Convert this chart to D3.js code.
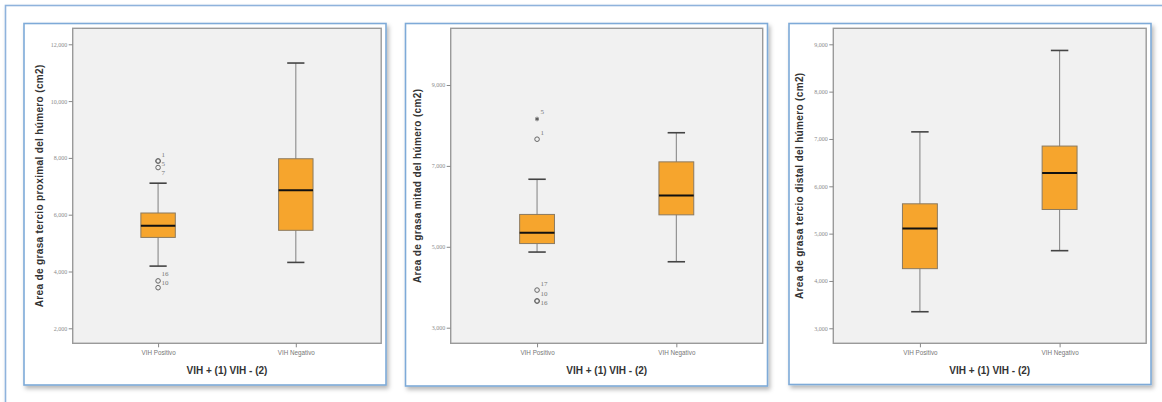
<!DOCTYPE html>
<html>
<head>
<meta charset="utf-8">
<script src="https://cdn.jsdelivr.net/npm/d3@7"></script>
<style>
  html, body { margin: 0; padding: 0; background: #fff; }
  svg { display: block; font-family: "Liberation Sans", Arial, sans-serif; }
</style>
</head>
<body>
<div id="chart"></div>
<script>
// Groups on the X axis (same for the three plots).
const categories = ["VIH Positivo", "VIH Negativo"];
const xTitle = "VIH + (1) VIH - (2)";

// Y axis titles, one per plot.
const yTitles = [
    "Area de grasa tercio proximal del húmero (cm2)",
    "Area de grasa mitad del húmero (cm2)",
    "Area de grasa tercio distal del húmero (cm2)"
];

// Y axis limits and ticks (cm2).
const yDomains = [[1.472, 12.563], [2.614, 10.402], [2.683, 9.338]];
const yTicks = [[2, 4, 6, 8, 10, 12], [3, 5, 7, 9], [3, 4, 5, 6, 7, 8, 9]];

// Box stats per group: [lower whisker, Q1, median, Q3, upper whisker].
const statsProximal = [[4.19, 5.20, 5.61, 6.06, 7.11], [4.32, 5.45, 6.86, 7.97, 11.34]];
const statsMitad    = [[4.87, 5.08, 5.35, 5.80, 6.67], [4.63, 5.79, 6.27, 7.10, 7.82]];
const statsDistal   = [[3.35, 4.26, 5.11, 5.63, 7.15], [4.64, 5.51, 6.28, 6.85, 8.87]];

// Outliers: group index, value, case number, extreme (star) or not.
const outProximal = [
    {g: 0, v: 7.89, id: "1", ext: false},
    {g: 0, v: 7.89, id: "5", ext: false},
    {g: 0, v: 7.66, id: "7", ext: false},
    {g: 0, v: 3.67, id: "16", ext: false},
    {g: 0, v: 3.43, id: "10", ext: false}
];
const outMitad = [
    {g: 0, v: 8.16, id: "5", ext: true},
    {g: 0, v: 7.66, id: "1", ext: false},
    {g: 0, v: 3.93, id: "17", ext: false},
    {g: 0, v: 3.66, id: "10", ext: false},
    {g: 0, v: 3.66, id: "16", ext: false}
];
const outDistal = [];

const allStats = [statsProximal, statsMitad, statsDistal];
const allOut = [outProximal, outMitad, outDistal];

// Page layout.
const width = 1162, height = 402;
const panelBoxes = [
    {x: 24,    y: 23.5, w: 362, h: 361.5, plotLeft: 48.7},
    {x: 405.5, y: 23.5, w: 362, h: 362.5, plotLeft: 45.2},
    {x: 789,   y: 23.5, w: 362, h: 361,   plotLeft: 44.3}
];
const plotTop = 28.3, plotBottom = 343.3, plotRightInset = 4.8;

const fmt = d3.formatLocale({decimal: ",", thousands: ".", grouping: [3], currency: ["", ""]})
    .format(".3f");

const svg = d3.select("#chart").append("svg")
    .attr("width", width)
    .attr("height", height);

// Soft shadow used by the frames.
const defs = svg.append("defs");
defs.append("filter")
    .attr("id", "shadow")
    .attr("x", "-5%").attr("y", "-5%").attr("width", "115%").attr("height", "115%")
    .append("feDropShadow")
        .attr("dx", 2).attr("dy", 3)
        .attr("stdDeviation", 2)
        .attr("flood-color", "#000")
        .attr("flood-opacity", 0.28);

// Outer frame (only top and left edges visible in the crop).
svg.append("rect")
    .attr("x", 5.5).attr("y", 5.5)
    .attr("width", width + 20).attr("height", height + 20)
    .style("fill", "#fff")
    .style("stroke", "#8fb3dc")
    .style("stroke-width", 1.6)
    .attr("filter", "url(#shadow)");

panelBoxes.forEach((p, i) => drawPanel(p, i));

function drawPanel(p, i) {
    const stats = allStats[i];
    const outs = allOut[i];

    const g = svg.append("g").attr("class", "panel");

    g.append("rect")
        .attr("x", p.x).attr("y", p.y)
        .attr("width", p.w).attr("height", p.h)
        .style("fill", "#fff")
        .style("stroke", "#7eaad8")
        .style("stroke-width", 1.6)
        .attr("filter", "url(#shadow)");

    const left = p.x + p.plotLeft, right = p.x + p.w - plotRightInset;

    const x = d3.scalePoint()
        .domain(categories)
        .range([left, right])
        .padding(0.62);

    const y = d3.scaleLinear()
        .domain(yDomains[i])
        .range([plotBottom, plotTop]);

    const boxW = x.step() * 0.25;

    // Plot background.
    g.append("rect")
        .attr("x", left).attr("y", plotTop)
        .attr("width", right - left).attr("height", plotBottom - plotTop)
        .style("fill", "#f1f1f1")
        .style("stroke", "#9a9a9a")
        .style("stroke-width", 1.4);

    // Y axis.
    const yAxis = g.append("g")
        .attr("transform", "translate(" + left + ",0)")
        .call(d3.axisLeft(y).tickValues(yTicks[i]).tickFormat(fmt).tickSize(4).tickPadding(1.5));
    yAxis.select(".domain").remove();
    yAxis.selectAll("line").style("stroke", "#888");
    yAxis.selectAll("text")
        .style("font-size", "6px")
        .style("fill", "#8a8a8a")
        .style("font-family", "'Liberation Serif', serif");

    // X axis.
    const xAxis = g.append("g")
        .attr("transform", "translate(0," + plotBottom + ")")
        .call(d3.axisBottom(x).tickSize(4).tickPadding(3));
    xAxis.select(".domain").remove();
    xAxis.selectAll("line").style("stroke", "#888");
    xAxis.selectAll("text")
        .style("font-size", "6.3px")
        .style("fill", "#777");

    // Axis titles.
    g.append("text")
        .attr("x", (left + right) / 2)
        .attr("y", 373.5)
        .attr("text-anchor", "middle")
        .style("font-size", "10px")
        .style("font-weight", "bold")
        .style("fill", "#333")
        .text(xTitle);

    g.append("text")
        .attr("transform", "translate(" + (left - 30) + "," + ((plotTop + plotBottom) / 2) + ") rotate(-90)")
        .attr("text-anchor", "middle")
        .style("font-size", "10px")
        .style("font-weight", "bold")
        .style("letter-spacing", "0.35px")
        .style("fill", "#333")
        .text(yTitles[i]);

    // Boxes.
    const box = g.selectAll("g.box")
        .data(stats)
        .join("g")
            .attr("class", "box")
            .attr("transform", (d, k) => "translate(" + x(categories[k]) + ",0)");

    box.append("line")
        .attr("y1", d => y(d[0])).attr("y2", d => y(d[4]))
        .style("stroke", "#8a8a8a").style("stroke-width", 1.1);

    box.selectAll("line.cap")
        .data(d => [d[0], d[4]])
        .join("line")
            .attr("class", "cap")
            .attr("x1", -boxW / 4).attr("x2", boxW / 4)
            .attr("y1", d => y(d)).attr("y2", d => y(d))
            .style("stroke", "#444").style("stroke-width", 1.6);

    box.append("rect")
        .attr("x", -boxW / 2).attr("width", boxW)
        .attr("y", d => y(d[3]))
        .attr("height", d => y(d[1]) - y(d[3]))
        .style("fill", "#f6a52d")
        .style("stroke", "#8b7a60")
        .style("stroke-width", 1);

    box.append("line")
        .attr("x1", -boxW / 2).attr("x2", boxW / 2)
        .attr("y1", d => y(d[2])).attr("y2", d => y(d[2]))
        .style("stroke", "#111").style("stroke-width", 2);

    // Outliers.
    const ox = d => x(categories[d.g]);

    g.selectAll("circle.out")
        .data(outs.filter(d => !d.ext))
        .join("circle")
            .attr("class", "out")
            .attr("cx", ox).attr("cy", d => y(d.v))
            .attr("r", 2.3)
            .style("fill", "none")
            .style("stroke", "#666")
            .style("stroke-width", 1);

    g.selectAll("path.ext")
        .data(outs.filter(d => d.ext))
        .join("path")
            .attr("class", "ext")
            .attr("transform", d => "translate(" + ox(d) + "," + y(d.v) + ")")
            .attr("d", d3.symbol(d3.symbolAsterisk, 14))
            .style("fill", "none")
            .style("stroke", "#555")
            .style("stroke-width", 1);

    // Case labels: start above-right of the point, then push apart vertically.
    const labels = outs.map(d => ({d: d, cy: y(d.v) - 7}))
        .sort((a, b) => a.cy - b.cy);
    for (let k = 1; k < labels.length; k++) {
        if (labels[k].d.g === labels[k - 1].d.g && labels[k].cy - labels[k - 1].cy < 9)
            labels[k].cy = labels[k - 1].cy + 9;
    }

    g.selectAll("text.lab")
        .data(labels)
        .join("text")
            .attr("class", "lab")
            .attr("x", l => ox(l.d) + 3.5)
            .attr("y", l => l.cy + 2.5)
            .style("font-size", "7px")
            .style("font-family", "'Liberation Serif', serif")
            .style("fill", "#777")
            .text(l => l.d.id);
}
</script>
</body>
</html>
